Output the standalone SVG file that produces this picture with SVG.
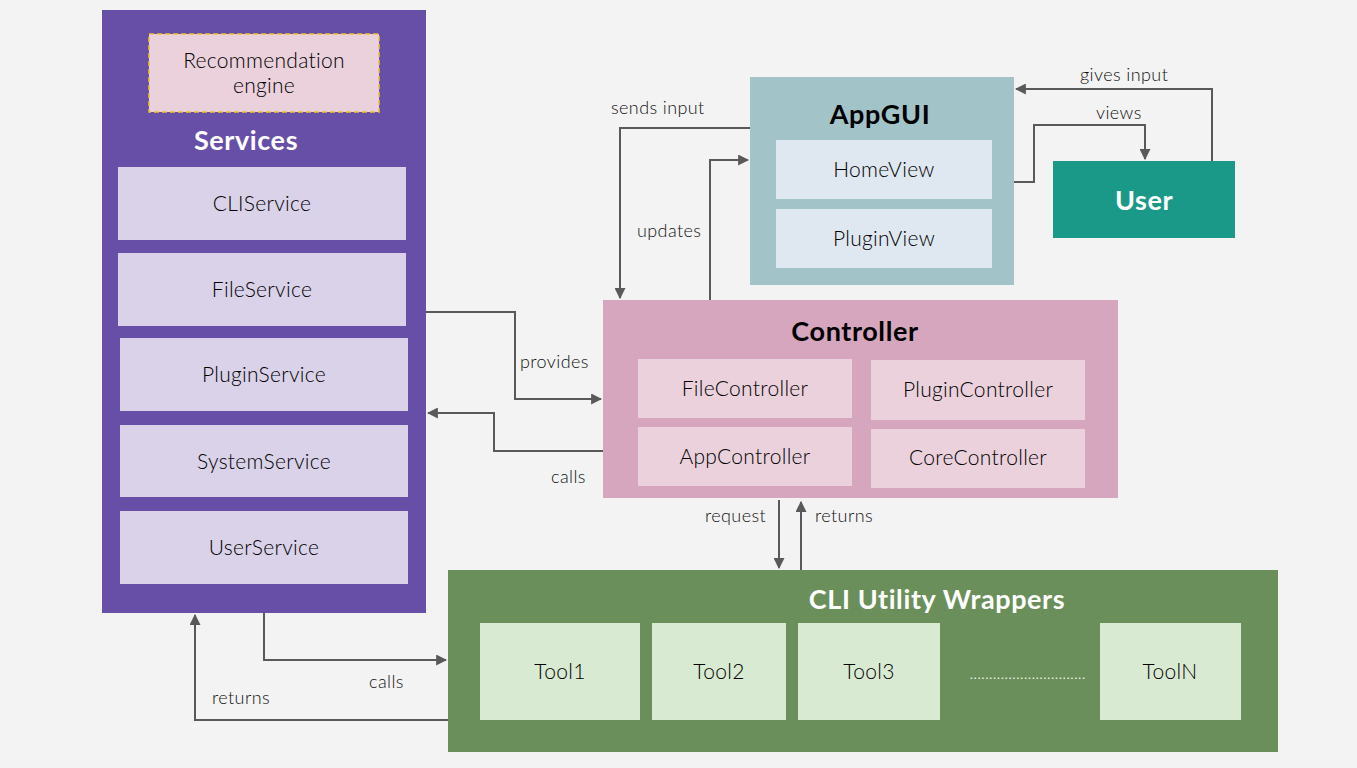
<svg xmlns="http://www.w3.org/2000/svg" width="1357" height="768" viewBox="0 0 1357 768">
<defs>
<marker id="ah" viewBox="0 0 10 10" refX="9" refY="5" markerWidth="5.5" markerHeight="5.5" orient="auto" markerUnits="strokeWidth">
<path d="M0,0 L10,5 L0,10 z" fill="#595959"/>
</marker>
<style>
text{font-family:Lato,"Open Sans","Liberation Sans",sans-serif;fill:#000000;}
.t{font-size:21px;text-anchor:middle;letter-spacing:0.3px;font-weight:300;}
.h{font-size:27px;font-weight:bold;text-anchor:middle;letter-spacing:0.6px;}
.w{fill:#ffffff;}
.l{font-size:18px;fill:#111111;letter-spacing:0.4px;font-weight:300;}
.c{fill:none;stroke:#595959;stroke-width:2;marker-end:url(#ah);}
.svc{fill:#d9d2e9;}
.ctl{fill:#ead1dc;}
.view{fill:#dfe7f0;}
.tool{fill:#d9ead3;}
</style>
</defs>
<rect x="0" y="0" width="1357" height="768" fill="#f3f3f3"/>

<g id="services">
<rect x="102" y="10" width="324" height="603" fill="#674ea7"/>
<text class="h w" x="246" y="150">Services</text>
</g>
<g id="recommendation-engine">
<rect x="149" y="34" width="230" height="78" fill="#ead1dc" stroke="#f1c232" stroke-width="1.5" stroke-dasharray="5,3"/>
<text class="t" x="264" y="68">Recommendation</text>
<text class="t" x="264" y="93">engine</text>
</g>
<g id="cliservice"><rect class="svc" x="118" y="167" width="288" height="73"/><text class="t" x="262" y="211">CLIService</text></g>
<g id="fileservice"><rect class="svc" x="118" y="253" width="288" height="73"/><text class="t" x="262" y="297">FileService</text></g>
<g id="pluginservice"><rect class="svc" x="120" y="338" width="288" height="73"/><text class="t" x="264" y="382">PluginService</text></g>
<g id="systemservice"><rect class="svc" x="120" y="425" width="288" height="72"/><text class="t" x="264" y="469">SystemService</text></g>
<g id="userservice"><rect class="svc" x="120" y="511" width="288" height="73"/><text class="t" x="264" y="555">UserService</text></g>

<g id="appgui">
<rect x="750" y="77" width="264" height="208" fill="#a2c4c9"/>
<text class="h" x="880" y="124">AppGUI</text>
</g>
<g id="homeview"><rect class="view" x="776" y="140" width="216" height="59"/><text class="t" x="884" y="177">HomeView</text></g>
<g id="pluginview"><rect class="view" x="776" y="209" width="216" height="59"/><text class="t" x="884" y="246">PluginView</text></g>

<g id="user">
<rect x="1053" y="161" width="182" height="77" fill="#1a9988"/>
<text class="h w" x="1144" y="210">User</text>
</g>

<g id="controller">
<rect x="603" y="300" width="515" height="198" fill="#d5a6bd"/>
<text class="h" x="855" y="341">Controller</text>
</g>
<g id="filecontroller"><rect class="ctl" x="638" y="359" width="214" height="59"/><text class="t" x="745" y="396">FileController</text></g>
<g id="plugincontroller"><rect class="ctl" x="871" y="360" width="214" height="60"/><text class="t" x="978" y="397">PluginController</text></g>
<g id="appcontroller"><rect class="ctl" x="638" y="427" width="214" height="59"/><text class="t" x="745" y="464">AppController</text></g>
<g id="corecontroller"><rect class="ctl" x="871" y="429" width="214" height="59"/><text class="t" x="978" y="465">CoreController</text></g>

<g id="cli-wrappers">
<rect x="448" y="570" width="830" height="182" fill="#6a8f5a"/>
<text class="h w" x="937" y="609">CLI Utility Wrappers</text>
<text x="970" y="679" textLength="115" lengthAdjust="spacing" style="font-size:12px;fill:#ffffff;">..............................</text>
</g>
<g id="tool1"><rect class="tool" x="480" y="623" width="160" height="97"/><text class="t" x="560" y="679">Tool1</text></g>
<g id="tool2"><rect class="tool" x="652" y="623" width="134" height="97"/><text class="t" x="719" y="679">Tool2</text></g>
<g id="tool3"><rect class="tool" x="798" y="623" width="142" height="97"/><text class="t" x="869" y="679">Tool3</text></g>
<g id="tooln"><rect class="tool" x="1100" y="623" width="141" height="97"/><text class="t" x="1170" y="679">ToolN</text></g>

<g id="connectors">
<path class="c" d="M750,128 H620 V298"/>
<path class="c" d="M710,300 V160 H748"/>
<path class="c" d="M1014,182 H1034 V125 H1145 V159"/>
<path class="c" d="M1212,161 V89 H1016"/>
<path class="c" d="M426,312 H515 V399 H601"/>
<path class="c" d="M603,451 H494 V413 H428"/>
<path class="c" d="M779,500 V568"/>
<path class="c" d="M801,570 V502"/>
<path class="c" d="M264,613 V660 H446"/>
<path class="c" d="M448,720 H195 V615"/>
<text class="l" x="611" y="114">sends input</text>
<text class="l" x="637" y="237">updates</text>
<text class="l" x="1080" y="81">gives input</text>
<text class="l" x="1096" y="119">views</text>
<text class="l" x="520" y="368">provides</text>
<text class="l" x="551" y="483">calls</text>
<text class="l" x="705" y="522">request</text>
<text class="l" x="815" y="522">returns</text>
<text class="l" x="369" y="688">calls</text>
<text class="l" x="212" y="704">returns</text>
</g>
</svg>
